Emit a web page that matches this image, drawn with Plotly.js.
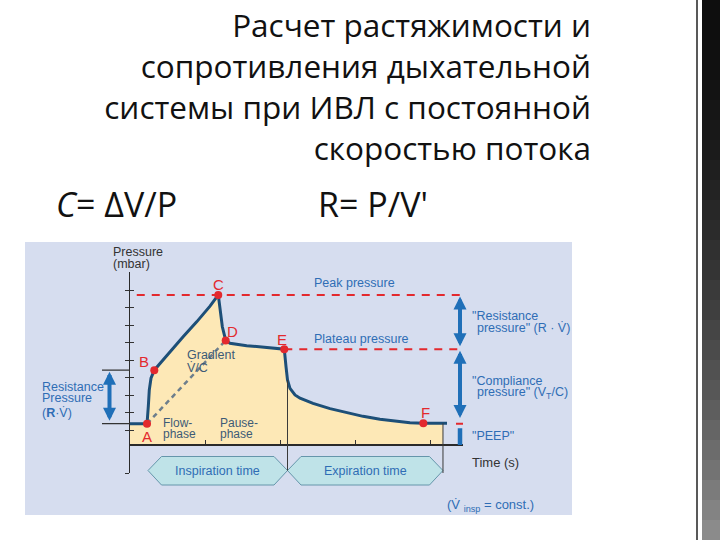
<!DOCTYPE html>
<html><head><meta charset="utf-8">
<script src="https://cdn.plot.ly/plotly-3.0.1.min.js"></script>
<style>html,body{margin:0;padding:0;background:#fff}#chart{width:720px;height:540px}</style>
</head><body><div id="chart"></div>
<script>
// ---------------- data ----------------
const titleLines = ['Расчет растяжимости и', 'сопротивления дыхательной', 'системы при ИВЛ с постоянной', 'скоростью потока'];
const formulaC = '<i>C</i>= ΔV/P';
const formulaR = "R= P/V'";

// pressure curve: time (s) vs pressure (mbar)
const timeS = [0, 0.227, 0.244, 0.257, 0.28, 0.324, 0.4, 0.533, 0.711, 0.889, 1.067, 1.177, 1.2, 1.231, 1.276, 1.333, 1.556, 1.778, 2.057, 2.08, 2.1, 2.133, 2.2, 2.267, 2.44, 2.667, 2.889, 3.107, 3.333, 3.556, 3.733, 3.911, 4.173, 4.227];
const pressureMbar = [5.8, 5.8, 10.7, 15.4, 18.8, 21.1, 23.0, 26.4, 30.7, 34.9, 39.4, 42.6, 38.3, 33.5, 29.6, 28.8, 28.1, 27.7, 27.1, 22.1, 18.3, 15.9, 14.0, 13.1, 11.6, 10.1, 8.9, 7.9, 7.1, 6.5, 6.1, 5.9, 5.9, 5.9];
const fillEndT = 4.173;

// labelled points
const pointLabels = ['A', 'B', 'C', 'D', 'E', 'F'];
const pointT = [0.227, 0.324, 1.177, 1.276, 2.057, 3.911];
const pointP = [5.8, 21.1, 42.6, 29.6, 27.1, 5.9];

// phases along time axis
const phaseNames = ['Inspiration time', 'Expiration time'];
const phaseStart = [0.24, 2.1];
const phaseEnd = [2.1, 4.173];

// axis ticks
const timeTicks = [1, 2, 3, 4];
const pressureTicks = [-8.3, 4, 9, 14, 19, 24, 29, 34, 39, 44];

// ---------------- styling ----------------
const FIG = 'Liberation Sans, Arial, sans-serif';
const SLIDE = 'Open Sans, sans-serif';
const BLUE_TXT = '#2f6db5';
const SLATE = '#3d5b76';
const RED = '#e3292e';
const CURVE = '#1d4f78';
const ARROW = '#1f6fb8';
const W = 720, H = 540;
const px = v => v / W;           // pixel -> paper x
const py = v => 1 - v / H;       // pixel -> paper y

const peakP = pointP[2], plateauP = pointP[4], peep = pointP[0];
const idxA = 0, idxB = 1, idxD = 3;

const fillT = [], fillP = [];
timeS.forEach((t, i) => { if (t <= fillEndT) { fillT.push(t); fillP.push(pressureMbar[i]); } });

function curveAt(t) {
  for (let i = 1; i < timeS.length; i++) {
    if (t <= timeS[i]) {
      const f = (t - timeS[i - 1]) / (timeS[i] - timeS[i - 1]);
      return pressureMbar[i - 1] + f * (pressureMbar[i] - pressureMbar[i - 1]);
    }
  }
  return pressureMbar[pressureMbar.length - 1];
}

const traces = [
  {x: [0], y: [0], xaxis: 'x', yaxis: 'y', mode: 'none', hoverinfo: 'skip', showlegend: false},
  {x: fillT, y: fillP, xaxis: 'x2', yaxis: 'y2', mode: 'none', fill: 'tozeroy', fillcolor: '#fde8b6', hoverinfo: 'skip', showlegend: false},
  {x: [pointT[idxA], pointT[idxD]], y: [pointP[idxA], pointP[idxD]], xaxis: 'x2', yaxis: 'y2', mode: 'lines',
   line: {color: '#6d7e8c', width: 2.5, dash: '5px,4px'}, hoverinfo: 'skip', showlegend: false},
  {x: timeS, y: pressureMbar, xaxis: 'x2', yaxis: 'y2', mode: 'lines', line: {color: CURVE, width: 3}, hoverinfo: 'skip', showlegend: false},
  {x: pointT, y: pointP, xaxis: 'x2', yaxis: 'y2', mode: 'markers', marker: {color: RED, size: 8}, cliponaxis: false, hoverinfo: 'skip', showlegend: false},
  {x: [], y: [], xaxis: 'x2', yaxis: 'y3', mode: 'none', hoverinfo: 'skip', showlegend: false}
];

const shapes = [];
// slide decoration on the right
const bands = 27;
for (let i = 0; i < bands; i++) {
  const f = i / (bands - 1);
  const g = Math.round(14 + 125 * Math.pow(f, 1.7));
  shapes.push({type: 'rect', xref: 'paper', yref: 'paper', layer: 'below', x0: px(702), x1: px(720),
    y0: py(i * H / bands), y1: py((i + 1) * H / bands), fillcolor: `rgb(${g},${g},${g})`, line: {width: 0}});
}
shapes.push({type: 'line', xref: 'paper', yref: 'paper', layer: 'below', x0: px(697), x1: px(697), y0: 0, y1: 1, line: {color: '#222', width: 1.5}});
// figure panel
shapes.push({type: 'rect', xref: 'paper', yref: 'paper', layer: 'below', x0: px(25), x1: px(572), y0: py(515), y1: py(242),
  fillcolor: '#d6ddef', line: {width: 0}});
// phase boxes
const slant = 0.18;
phaseNames.forEach((n, i) => {
  const a = phaseStart[i], b = phaseEnd[i];
  const yt = py(456.5), ym = py(470.5), yb = py(485);
  shapes.push({type: 'path', xref: 'x2', yref: 'paper', layer: 'below',
    path: `M${a},${ym} L${a + slant},${yt} L${b - slant},${yt} L${b},${ym} L${b - slant},${yb} L${a + slant},${yb} Z`,
    fillcolor: '#bfe3e8', line: {color: '#6596ab', width: 1}});
});
// peak & plateau dashed lines
shapes.push({type: 'line', xref: 'x2', yref: 'y2', layer: 'below', x0: 0.09, x1: 4.44, y0: peakP, y1: peakP, line: {color: RED, width: 2, dash: '8px,7px'}});
shapes.push({type: 'line', xref: 'x2', yref: 'y2', layer: 'below', x0: pointT[4], x1: 4.44, y0: plateauP, y1: plateauP, line: {color: RED, width: 2, dash: '8px,7px'}});
shapes.push({type: 'line', xref: 'x', yref: 'y2', layer: 'above', x0: 456, x1: 463, y0: peep, y1: peep, line: {color: RED, width: 2}});
// phase boundary lines
shapes.push({type: 'line', xref: 'x2', yref: 'y2', layer: 'above', x0: phaseEnd[0], x1: phaseEnd[0], y0: curveAt(phaseEnd[0]), y1: -7.6, line: {color: '#3a3a3a', width: 1}});
shapes.push({type: 'line', xref: 'x2', yref: 'y2', layer: 'above', x0: phaseEnd[1], x1: phaseEnd[1], y0: curveAt(phaseEnd[1]), y1: -8.3, line: {color: '#3a3a3a', width: 1}});
// left bracket lines
shapes.push({type: 'line', xref: 'x', yref: 'y2', layer: 'above', x0: 102, x1: 130, y0: pointP[idxB], y1: pointP[idxB], line: {color: '#333', width: 1.2}});
shapes.push({type: 'line', xref: 'x', yref: 'y2', layer: 'above', x0: 102, x1: 130, y0: peep, y1: peep, line: {color: '#333', width: 1.2}});
// PEEP bar
shapes.push({type: 'line', xref: 'x', yref: 'y2', layer: 'above', x0: 460, x1: 460, y0: -0.3, y1: peep * 0.77, line: {color: ARROW, width: 4.5}});

const annotations = [];
function txt(x, y, text, color, opts) {
  annotations.push(Object.assign({xref: 'x', yref: 'y', x: x, y: y, text: text, showarrow: false,
    xanchor: 'left', yanchor: 'middle', font: {family: FIG, size: 12.5, color: color}}, opts || {}));
}
function dblArrow(x, yTip, yTail) {
  annotations.push({xref: 'x', yref: 'y2', axref: 'x', ayref: 'y2', x: x, y: yTip, ax: x, ay: yTail, text: '',
    showarrow: true, arrowside: 'end+start', arrowhead: 2, startarrowhead: 2, arrowsize: 0.65, startarrowsize: 0.65,
    arrowwidth: 4, arrowcolor: ARROW, standoff: 1.5, startstandoff: 1.5});
}
// slide formulas
annotations.push({xref: 'x', yref: 'y', x: 54, y: 204, text: formulaC, showarrow: false, xanchor: 'left', yanchor: 'middle', font: {family: SLIDE, size: 34, color: '#111'}});
annotations.push({xref: 'x', yref: 'y', x: 316, y: 204, text: formulaR, showarrow: false, xanchor: 'left', yanchor: 'middle', font: {family: SLIDE, size: 34, color: '#111'}});
// figure texts
const small = {family: FIG, size: 12, color: SLATE};
txt(111, 252, 'Pressure', '#333');
txt(111, 264, '(mbar)', '#333');
txt(354, 283, 'Peak pressure', BLUE_TXT, {xanchor: 'center'});
txt(361, 339, 'Plateau pressure', BLUE_TXT, {xanchor: 'center'});
txt(40, 387, 'Resistance', BLUE_TXT);
txt(40, 398, 'Pressure', BLUE_TXT);
txt(40, 413, '(<b>R</b>·V̇)', BLUE_TXT);
txt(185, 355, 'Gradient', SLATE);
txt(185, 368, 'V̇/C', SLATE);
txt(161, 423, 'Flow-', SLATE, {font: small});
txt(161, 434, 'phase', SLATE, {font: small});
txt(218, 423, 'Pause-', SLATE, {font: small});
txt(218, 434, 'phase', SLATE, {font: small});
txt(470, 316, '"Resistance', BLUE_TXT);
txt(475, 328, 'pressure" (R · V̇)', BLUE_TXT);
txt(470, 381, '"Compliance', BLUE_TXT);
txt(475, 393, 'pressure" (V<sub>T</sub>/C)', BLUE_TXT);
txt(470, 436, '"PEEP"', BLUE_TXT);
txt(470, 462, 'Time (s)', '#333', {font: {family: FIG, size: 13, color: '#333'}});
txt(445, 505, '(V̇ <sub>insp</sub> = const.)', BLUE_TXT, {font: {family: FIG, size: 13, color: BLUE_TXT}});
phaseNames.forEach((n, i) => {
  annotations.push({xref: 'x2', yref: 'y', x: (phaseStart[i] + phaseEnd[i]) / 2, y: 470.5, text: n, showarrow: false,
    xanchor: 'center', yanchor: 'middle', font: {family: FIG, size: 12.5, color: BLUE_TXT}});
});
// point letters
const letterShift = [[0, -13], [-10.5, 9], [0, 10], [6.6, 8.6], [-2.6, 10], [1.7, 10.6]];
pointLabels.forEach((l, i) => {
  annotations.push({xref: 'x2', yref: 'y2', x: pointT[i], y: pointP[i], xshift: letterShift[i][0], yshift: letterShift[i][1],
    text: l, showarrow: false, xanchor: 'center', yanchor: 'middle', font: {family: FIG, size: 15, color: RED}});
});
// arrows
dblArrow(109.5, pointP[idxB], peep);
dblArrow(460, peakP, plateauP);
dblArrow(460, plateauP, peep + 0.8);

const layout = {
  width: W, height: H, autosize: false,
  margin: {l: 0, r: 0, t: 0, b: 0, pad: 0},
  paper_bgcolor: '#ffffff', plot_bgcolor: 'rgba(0,0,0,0)',
  showlegend: false,
  title: {text: titleLines.join('<br>'), font: {family: SLIDE, size: 31.5, color: '#111'},
    xref: 'paper', x: px(591), xanchor: 'right', yref: 'container', y: py(37), yanchor: 'top'},
  xaxis: {domain: [0, 1], range: [0, W], visible: false, fixedrange: true},
  yaxis: {domain: [0, 1], range: [H, 0], visible: false, fixedrange: true},
  xaxis2: {domain: [px(130), px(463)], range: [0, 4.44], anchor: 'free', position: py(444),
    showline: true, linecolor: '#2a2a2a', linewidth: 1.6, ticks: 'inside', ticklen: 4, tickwidth: 1, tickcolor: '#333',
    tickvals: timeTicks, showticklabels: false, showgrid: false, zeroline: false, fixedrange: true},
  yaxis2: {domain: [py(473.05), py(271.8)], range: [-8.3, 49.2], anchor: 'x2',
    showline: true, linecolor: '#2a2a2a', linewidth: 1.2, ticks: 'outside', ticklen: 4, tickwidth: 1, tickcolor: '#333',
    tickvals: pressureTicks, showticklabels: false, showgrid: false, zeroline: false, fixedrange: true},
  yaxis3: {overlaying: 'y2', anchor: 'x2', range: [-8.3, 49.2], ticks: 'inside', ticklen: 4, tickwidth: 1, tickcolor: '#333',
    tickvals: pressureTicks, showticklabels: false, showline: false, showgrid: false, zeroline: false, fixedrange: true},
  shapes: shapes,
  annotations: annotations
};

Plotly.newPlot('chart', traces, layout, {displayModeBar: false, staticPlot: true});
</script>
</body></html>
